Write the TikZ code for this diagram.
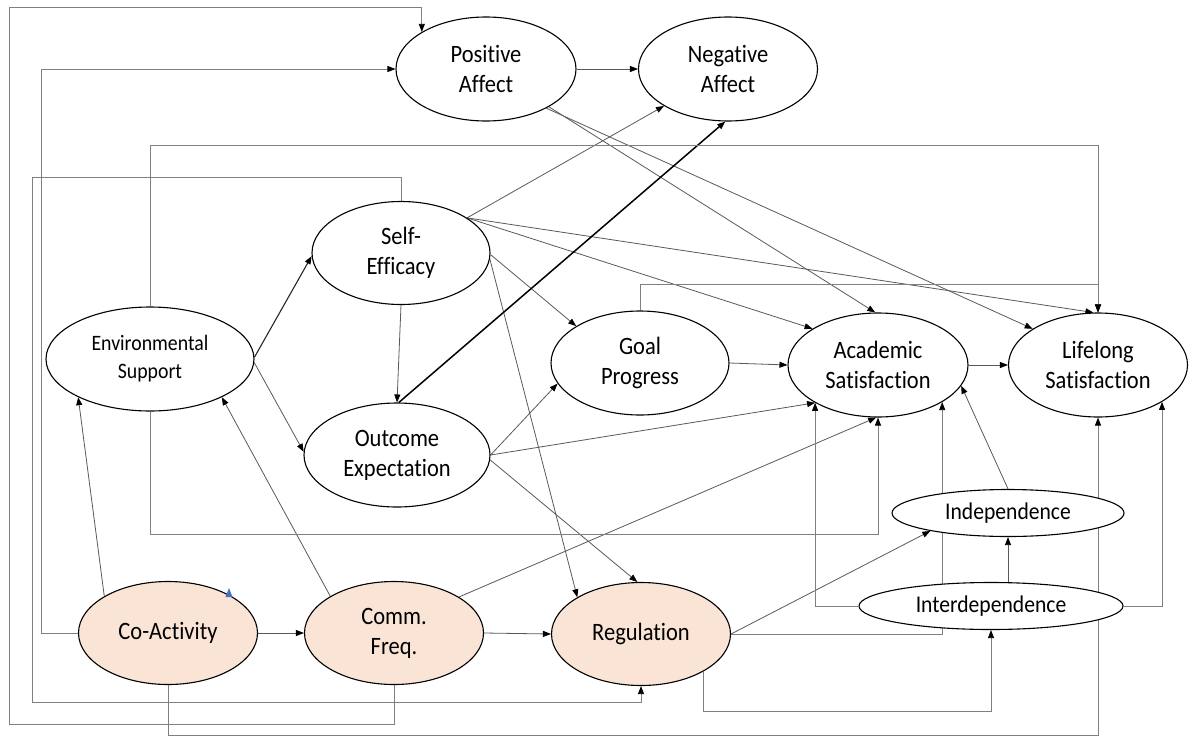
\documentclass[tikz,border=0pt]{standalone}
\usepackage{fontspec}
\setmainfont{Carlito}[Ligatures=NoCommon, FakeStretch=0.9]
\usetikzlibrary{shapes.geometric,arrows.meta}
\pgfdeclarelayer{bg}
\pgfsetlayers{bg,main}
\definecolor{peach}{HTML}{FAE4D6}
\definecolor{markblue}{HTML}{4472C4}
\tikzset{
  latent/.style={ellipse, draw=black, line width=1.1pt, fill=white, inner sep=0pt,
    align=center, font=\fontsize{25}{30}\selectfont},
  observed/.style={latent, fill=peach},
  tip/.style={-{Triangle[length=8pt,width=6pt,color=black]}},
  link/.style={tip, draw=black!65, line width=0.8pt},
  elbow/.style={tip, draw=black!50, line width=0.8pt},
  boldlink/.style={tip, draw=black, line width=1.5pt},
}
\begin{document}
\begin{tikzpicture}[x=1pt, y=-1pt]
\useasboundingbox (0,0) rectangle (1190,736);

% constructs
\node[latent, minimum width=180pt, minimum height=104pt] (PA) at (486,69) {Positive\\Affect};
\node[latent, minimum width=179pt, minimum height=104pt] (NA) at (728,69) {Negative\\Affect};
\node[latent, minimum width=178pt, minimum height=103pt] (SE) at (401,253) {Self-\\Efficacy};
\node[latent, minimum width=208pt, minimum height=104pt, font=\fontsize{22}{28}\selectfont] (ES) at (150,359) {Environmental\\Support};
\node[latent, minimum width=186pt, minimum height=104pt] (OE) at (397,455) {Outcome\\Expectation};
\node[latent, minimum width=178pt, minimum height=104pt] (GP) at (640,363) {Goal\\Progress};
\node[latent, minimum width=180pt, minimum height=104pt] (AS) at (878,365) {Academic\\Satisfaction};
\node[latent, minimum width=179pt, minimum height=104pt] (LS) at (1098,365) {Lifelong\\Satisfaction};
\node[latent, minimum width=232pt, minimum height=47pt, font=\fontsize{24}{28}\selectfont] (IND) at (1008,513) {Independence};
\node[latent, minimum width=264pt, minimum height=47pt, font=\fontsize{24}{28}\selectfont] (INT) at (991,606) {Interdependence};
\node[observed, minimum width=179pt, minimum height=103pt] (CA) at (168,633) {Co-Activity};
\node[observed, minimum width=179pt, minimum height=103pt] (CF) at (394,633) {Comm.\\Freq.};
\node[observed, minimum width=179pt, minimum height=103pt] (RG) at (641,634) {Regulation};

% small blue mark on the Co-Activity outline
\fill[markblue] (225.5,597) -- (229,588) -- (232.5,597) -- cycle;

\begin{pgfonlayer}{bg}
  % straight paths
  \draw[link] (PA.east) -- (NA.west);
  \draw[link] (PA.-31) -- (AS.93);
  \draw[link] (PA.-33) -- (LS.151);
  \draw[link] (SE.28) -- (NA.210);
  \draw[link] (SE.28) -- (AS.151);
  \draw[link] (SE.28) -- (LS.95);
  \draw[link] (SE.-1) -- (GP.150);
  \draw[link] (SE.-4) -- (RG.150);
  \draw[link] (SE.south) -- (OE.north);
  \draw[boldlink] (OE.88) -- (NA.267);
  \draw[link] (OE.east) -- (GP.194);
  \draw[link] (OE.east) -- (AS.211);
  \draw[link] (OE.-3) -- (RG.94);
  \draw[tip, draw=black!85, line width=1.1pt] (ES.1) -- (SE.182);
  \draw[link] (ES.-2) -- (OE.178);
  \draw[link] (CA.150) -- (ES.208);
  \draw[link] (CF.150) -- (ES.332);
  \draw[link] (CA.east) -- (CF.west);
  \draw[link] (CF.east) -- (RG.west);
  \draw[link] (CF.29) -- (AS.268);
  \draw[link] (GP.east) -- (AS.west);
  \draw[link] (AS.east) -- (LS.west);
  \draw[link] (RG.east) -- (IND.193);
  \draw[link] (INT.north -| IND.south) -- (IND.south);
  \draw[link] (IND.north) -- (AS.-14);

  % routed paths
  \draw[elbow] (RG.east) -| (AS.-30);
  \draw[elbow] (RG.-31) -- ++(0,40) -| (INT.south);
  \draw[elbow] (INT.west) -| (AS.211);
  \draw[elbow] (INT.east) -| (LS.-30);
  \draw[elbow] (CA.south) -- ++(0,50) -| (LS.south);
  \draw[elbow] (ES.south) -- ++(0,123) -| (AS.south);
  \draw[elbow] (ES.north) -- ++(0,-161) -| (LS.north);
  \draw[elbow] (GP.north) -- ++(0,-26) -| (LS.north);
  \draw[elbow] (CA.west) -- ++(-37,0) |- (PA.west);
  \draw[elbow] (CF.south) |- (9,724) -- (9,7) -| (PA.150);
  \draw[elbow] (SE.north) |- (32,177) -- (32,702) -| (RG.south);
\end{pgfonlayer}
\end{tikzpicture}
\end{document}
